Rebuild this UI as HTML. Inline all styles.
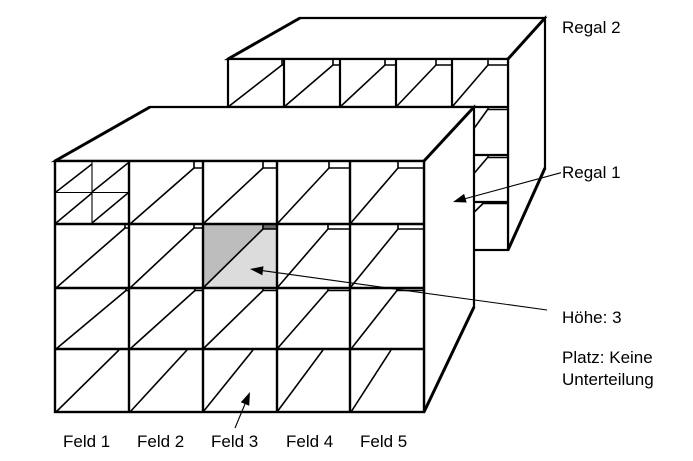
<!DOCTYPE html>
<html>
<head>
<meta charset="utf-8">
<style>
  html,body{margin:0;padding:0;background:#fff;}
  body{width:693px;height:461px;overflow:hidden;}
  svg{display:block;}
  text{font-family:"Liberation Sans", Arial, sans-serif;font-size:17px;fill:#000;}
</style>
</head>
<body>
<svg width="693" height="461" viewBox="0 0 693 461" xmlns="http://www.w3.org/2000/svg">
  <!-- ============ REGAL 2 (back) ============ -->
  <g stroke="#000" fill="#fff" stroke-linejoin="miter">
    <!-- top face -->
    <polygon points="228,59 300,18 545,18 508,59" stroke-width="2.2"/>
    <!-- right side face -->
    <polygon points="508,59 545,18 545,168 508,250" stroke-width="2.2"/>
    <!-- front face -->
    <rect x="228" y="59" width="280" height="191" stroke-width="2.2"/>
  </g>
  <line x1="228" y1="59" x2="300" y2="18" stroke="#000" stroke-width="3"/>
  <line x1="508" y1="59" x2="545" y2="18" stroke="#000" stroke-width="3"/>
  <line x1="545" y1="168" x2="508" y2="250" stroke="#000" stroke-width="3"/>
  <g stroke="#000" stroke-width="2.2" fill="none">
    <line x1="284" y1="59" x2="284" y2="107"/>
    <line x1="340" y1="59" x2="340" y2="107"/>
    <line x1="396" y1="59" x2="396" y2="107"/>
    <line x1="452" y1="59" x2="452" y2="107"/>
    <line x1="228" y1="107" x2="508" y2="107"/>
    <line x1="228" y1="155" x2="508" y2="155"/>
    <line x1="228" y1="202" x2="508" y2="202"/>
  </g>
  <g stroke="#000" stroke-width="1.6" fill="none">
    <!-- row 1 diagonals + notches -->
    <line x1="228" y1="107" x2="282" y2="65"/><polyline points="282,59 282,65 284,65"/>
    <line x1="284" y1="107" x2="333" y2="65"/><polyline points="333,59 333,65 340,65"/>
    <line x1="340" y1="107" x2="385" y2="65"/><polyline points="385,59 385,65 396,65"/>
    <line x1="396" y1="107" x2="436" y2="65"/><polyline points="436,59 436,65 452,65"/>
    <line x1="452" y1="107" x2="488" y2="65"/><polyline points="488,59 488,65 508,65"/>
    <!-- lower rows (partially visible) -->
    <line x1="460" y1="148" x2="488" y2="109"/><polyline points="488,107 488,109.5 508,109.5"/>
    <line x1="460" y1="190" x2="488" y2="157"/><polyline points="488,155 488,157.5 508,157.5"/>
    <line x1="460" y1="226" x2="483" y2="203.5"/><polyline points="483,202 483,203.5 508,203.5"/>
  </g>

  <!-- ============ REGAL 1 (front) ============ -->
  <g stroke="#000" fill="#fff">
    <polygon points="55,161 150,107 474,107 424,161" stroke-width="2.2"/>
    <polygon points="424,161 474,107 474,307 424,412" stroke-width="2.2"/>
    <rect x="55" y="161" width="369" height="251" stroke-width="2.4"/>
  </g>
  <line x1="55" y1="161" x2="150" y2="107" stroke="#000" stroke-width="3"/>
  <line x1="424" y1="161" x2="474" y2="107" stroke="#000" stroke-width="3"/>
  <line x1="474" y1="307" x2="424" y2="412" stroke="#000" stroke-width="3"/>

  <!-- shaded cell (Feld 3, Höhe 3) -->
  <polygon points="203,224 263,224 263,229 203,288" fill="#bdbdbd"/>
  <polygon points="203,288 263,229 277,229 277,288" fill="#dcdcdc"/>
  <rect x="263" y="224" width="14" height="5" fill="#6e6e6e"/>

  <!-- grid -->
  <g stroke="#000" stroke-width="2.4" fill="none">
    <line x1="129" y1="161" x2="129" y2="412"/>
    <line x1="203" y1="161" x2="203" y2="412"/>
    <line x1="277" y1="161" x2="277" y2="412"/>
    <line x1="350" y1="161" x2="350" y2="412"/>
    <line x1="55" y1="224" x2="424" y2="224"/>
    <line x1="55" y1="288" x2="424" y2="288"/>
    <line x1="55" y1="349" x2="424" y2="349"/>
  </g>

  <!-- cell diagonals & notches -->
  <g stroke="#000" stroke-width="1.6" fill="none">
    <!-- row 1 -->
    <line x1="130" y1="224" x2="194" y2="168"/><polyline points="194,161 194,168 203,168"/>
    <line x1="203" y1="224" x2="263" y2="168"/><polyline points="263,161 263,168 277,168"/>
    <line x1="277" y1="224" x2="329" y2="168"/><polyline points="329,161 329,168 350,168"/>
    <line x1="350" y1="224" x2="398" y2="168"/><polyline points="398,161 398,168 424,168"/>
    <!-- row 2 -->
    <line x1="56" y1="288" x2="125" y2="228"/><polyline points="125,224 125,228 129,228"/>
    <line x1="130" y1="288" x2="194" y2="228"/><polyline points="194,224 194,228 203,228"/>
    <line x1="203" y1="288" x2="263" y2="229"/><polyline points="263,224 263,229 277,229"/>
    <line x1="277" y1="288" x2="328" y2="229"/><polyline points="328,224 328,229 350,229"/>
    <line x1="350" y1="288" x2="398" y2="229"/><polyline points="398,224 398,229 424,229"/>
    <!-- row 3 -->
    <line x1="56" y1="349" x2="126" y2="290.5"/><polyline points="126,288 126,290.5 129,290.5"/>
    <line x1="130" y1="349" x2="195" y2="290.5"/><polyline points="195,288 195,290.5 203,290.5"/>
    <line x1="203" y1="349" x2="263" y2="290.5"/><polyline points="263,288 263,290.5 277,290.5"/>
    <line x1="277" y1="349" x2="328" y2="290.5"/><polyline points="328,288 328,290.5 350,290.5"/>
    <line x1="351" y1="349" x2="397" y2="290.5"/><polyline points="397,288 397,290.5 424,290.5"/>
    <!-- row 4 -->
    <line x1="56" y1="412" x2="119" y2="350"/>
    <line x1="130" y1="412" x2="187" y2="350"/>
    <line x1="203" y1="412" x2="253" y2="350"/>
    <line x1="277" y1="412" x2="323" y2="350"/>
    <line x1="351" y1="412" x2="391" y2="350"/>
  </g>

  <!-- subdivided cell (Feld 1, top) -->
  <g stroke="#000" stroke-width="1.1" fill="none">
    <line x1="92" y1="161" x2="92" y2="224"/>
    <line x1="55" y1="192.5" x2="129" y2="192.5"/>
  </g>
  <g stroke="#000" stroke-width="1.5" fill="none">
    <line x1="56" y1="192" x2="92" y2="164"/>
    <line x1="92" y1="192" x2="128" y2="163"/>
    <line x1="56" y1="223" x2="92" y2="193"/>
    <line x1="92" y1="223" x2="128" y2="193"/>
  </g>

  <!-- ============ ARROWS ============ -->
  <g stroke="#000" stroke-width="1.1" fill="none">
    <line x1="561" y1="172.7" x2="464" y2="199"/>
    <line x1="547" y1="310" x2="262" y2="270.6"/>
    <line x1="235" y1="428" x2="245" y2="404"/>
  </g>
  <g fill="#000" stroke="none">
    <polygon points="453,202 466.7,202.5 464.1,193.9"/>
    <polygon points="250,269 263.5,266.3 262.3,275.2"/>
    <polygon points="250,392 249.2,405.7 240.8,402.3"/>
  </g>

  <!-- ============ LABELS ============ -->
  <text x="562" y="33">Regal 2</text>
  <text x="562" y="178">Regal 1</text>
  <text x="562" y="323">Höhe: 3</text>
  <text x="562" y="363">Platz: Keine</text>
  <text x="562" y="385">Unterteilung</text>
  <text x="63" y="447">Feld 1</text>
  <text x="137" y="447">Feld 2</text>
  <text x="211" y="447">Feld 3</text>
  <text x="286" y="447">Feld 4</text>
  <text x="360" y="447">Feld 5</text>
</svg>
</body>
</html>
